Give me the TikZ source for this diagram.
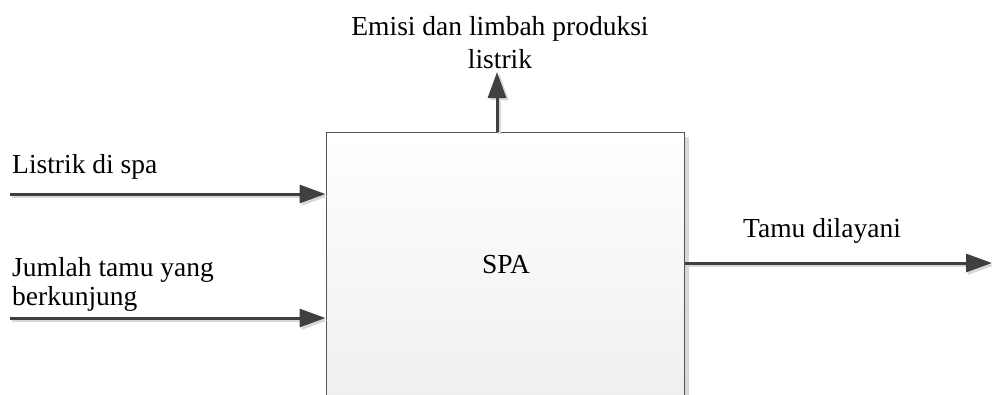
\documentclass[tikz,border=0pt]{standalone}
\usepackage{fontspec}
\setmainfont{Liberation Serif}
\usetikzlibrary{arrows.meta}
\definecolor{flowgray}{HTML}{404040}
\definecolor{shadegray}{HTML}{D8D8D8}
\definecolor{boxline}{HTML}{555555}
\definecolor{boxbottom}{HTML}{EFEFEF}
\tikzset{
  label text/.style={inner sep=0pt, font=\fontsize{27.5bp}{30bp}\selectfont},
  flow/.style={draw=flowgray, line width=3bp,
    -{Triangle[length=26bp, width=18bp]}},
  flowshade/.style={draw=shadegray, line width=3bp,
    -{Triangle[length=26bp, width=18bp]}},
  processbox/.style={draw=boxline, line width=1bp, top color=white,
    bottom color=boxbottom, minimum width=358bp, minimum height=266bp,
    inner sep=0pt}
}
\begin{document}
\begin{tikzpicture}[x=1bp, y=-1bp]
  \clip (0,0) rectangle (992,394);
  \fill[white] (0,0) rectangle (992,394);

  % process block with a soft drop shadow
  \fill[shadegray] (331,137) rectangle (689,420);
  \node[processbox] (spa) at (505,265) {};
  \node[label text] (spatext) at (506,265) {SPA};

  % free ends of the flows
  \coordinate (inpower) at (10,194);
  \coordinate (inguest) at (10,318);
  \coordinate (outguest) at (992,263);
  \coordinate (outemis) at (497,72);

  % shadows of the flows
  \draw[flowshade] ([shift={(2,2.5)}]inpower) -- ([shift={(2,2.5)}]inpower -| spa.west);
  \draw[flowshade] ([shift={(2,2.5)}]inguest) -- ([shift={(2,2.5)}]inguest -| spa.west);
  \draw[flowshade] ([shift={(2,2.5)}]outguest -| spa.east) -- ([shift={(2,2.5)}]outguest);
  \draw[flowshade] ([shift={(2.5,2)}]outemis |- spa.north) -- ([shift={(2.5,2)}]outemis);

  % flows
  \draw[flow] (inpower) -- (inpower -| spa.west);
  \draw[flow] (inguest) -- (inguest -| spa.west);
  \draw[flow] (outguest -| spa.east) -- (outguest);
  \draw[flow] (outemis |- spa.north) -- (outemis);

  % labels
  \node[label text, anchor=base] (emis1) at (500,35) {Emisi dan limbah produksi};
  \node[label text, anchor=base] (emis2) at (500,68) {listrik};
  \node[label text, anchor=base west] (power) at (12,173) {Listrik di spa};
  \node[label text, anchor=base west] (guest1) at (12,276) {Jumlah tamu yang};
  \node[label text, anchor=base west] (guest2) at (12,305) {berkunjung};
  \node[label text, anchor=base west] (served) at (743,237) {Tamu dilayani};
\end{tikzpicture}
\end{document}
